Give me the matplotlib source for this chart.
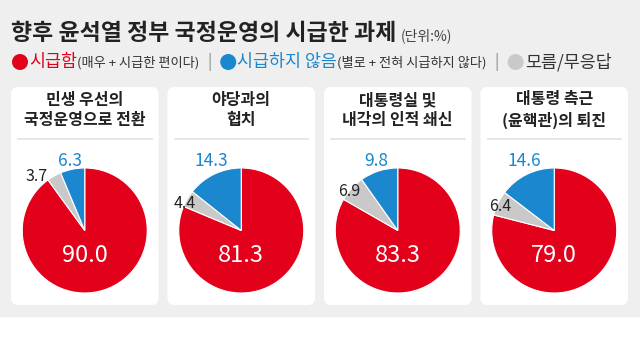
import numpy as np
import matplotlib
matplotlib.use("Agg")
import matplotlib.pyplot as plt
from matplotlib.patches import FancyBboxPatch, Circle

plt.rcParams['font.family'] = ['Noto Sans CJK KR', 'DejaVu Sans']

# data
titles = ["민생 우선의\n국정운영으로 전환", "야당과의\n협치", "대통령실 및\n내각의 인적 쇄신", "대통령 측근\n(윤핵관)의 퇴진"]
urgent = [90.0, 81.3, 83.3, 79.0]
unknown = [3.7, 4.4, 6.9, 6.4]
not_urgent = [6.3, 14.3, 9.8, 14.6]

RED = "#e2001a"
BLUE = "#1a87cf"
GRAY = "#c9c9c9"

W, H = 640, 360
fig = plt.figure(figsize=(6.4, 3.6), dpi=100)
fig.patch.set_facecolor("white")
bg = fig.add_axes([0, 0, 1, 1])
bg.set_xlim(0, W)
bg.set_ylim(H, 0)
bg.axis("off")
bg.add_patch(plt.Rectangle((0, 0), W, 316, color="#efefef", zorder=0))

# header
t = bg.text(11, 34, "향후 윤석열 정부 국정운영의 시급한 과제", fontsize=16.5, fontweight="bold",
            color="#222222", va="center", ha="left")
fig.canvas.draw()
r = fig.canvas.get_renderer()


def right_edge(txt):
    bb = txt.get_window_extent(renderer=r)
    return bb.x1


x = right_edge(t) + 4
bg.text(x, 36, "(단위:%)", fontsize=10, color="#444444", va="center", ha="left")

# legend row
ly = 62
legend = [
    (RED, "시급함", RED, "(매우 + 시급한 편이다)"),
    (BLUE, "시급하지 않음", BLUE, "(별로 + 전혀 시급하지 않다)"),
    (GRAY, "모름/무응답", "#333333", None),
]
x = 12
for i, (c, main, mc, sub) in enumerate(legend):
    if i > 0:
        bg.text(x + 10, ly, "|", fontsize=11, color="#888888", va="center", ha="center")
        x += 21
    bg.add_patch(Circle((x + 8, ly), 8, color=c, lw=0))
    x += 17
    tm = bg.text(x, ly, main, fontsize=12.5, color=mc, fontweight="medium",
                 va="center", ha="left")
    fig.canvas.draw()
    x = right_edge(tm)
    if sub:
        ts = bg.text(x, ly + 1, sub, fontsize=9.5, color="#333333", va="center", ha="left")
        fig.canvas.draw()
        x = right_edge(ts)

# panels
lefts = [11, 167.5, 324, 480.5]
pw = 147.5
top, bottom = 87, 305
gray_pos = [(-0.60, 0.87), (-0.73, 0.43), (-0.60, 0.62), (-0.68, 0.38)]

for i in range(4):
    lx = lefts[i]
    bg.add_patch(FancyBboxPatch((lx, top), pw, bottom - top,
                                boxstyle="round,pad=0,rounding_size=7",
                                fc="white", ec="none", zorder=1))
    cx = lx + pw / 2
    bg.text(cx, 110, titles[i], fontsize=11.5, fontweight="bold", color="#222222",
            ha="center", va="center", linespacing=1.3, zorder=2)
    bg.plot([lx + 7, lx + pw - 7], [139, 139], color="#e2e2e2", lw=1.2, zorder=2)

    cy, rad = 230.5, 62.5
    half = 1.45 * rad
    ax = fig.add_axes([(cx - half) / W, (H - cy - half) / H, 2 * half / W, 2 * half / H])
    vals = [urgent[i], unknown[i], not_urgent[i]]
    ax.pie(vals, colors=[RED, GRAY, BLUE], startangle=90, counterclock=False, radius=1,
           wedgeprops=dict(edgecolor="white", linewidth=0.8))
    ax.set_xlim(-1.45, 1.45)
    ax.set_ylim(-1.45, 1.45)
    ax.axis("off")

    ax.text(0, -0.4, f"{urgent[i]:.1f}", fontsize=17, color="white", fontweight="medium",
            ha="center", va="center")
    mid = np.deg2rad(90 - 360 * (100 - not_urgent[i] / 2) / 100)
    ax.text(np.cos(mid) - 0.04, 1.12, f"{not_urgent[i]:.1f}", fontsize=12.5, color=BLUE,
            fontweight="medium", ha="center", va="center")
    gx, gy = gray_pos[i]
    ax.text(gx, gy, f"{unknown[i]:.1f}", fontsize=11.5, color="#222222",
            fontweight="medium", ha="right", va="center")

fig.savefig("out.png", dpi=100, facecolor="white")
